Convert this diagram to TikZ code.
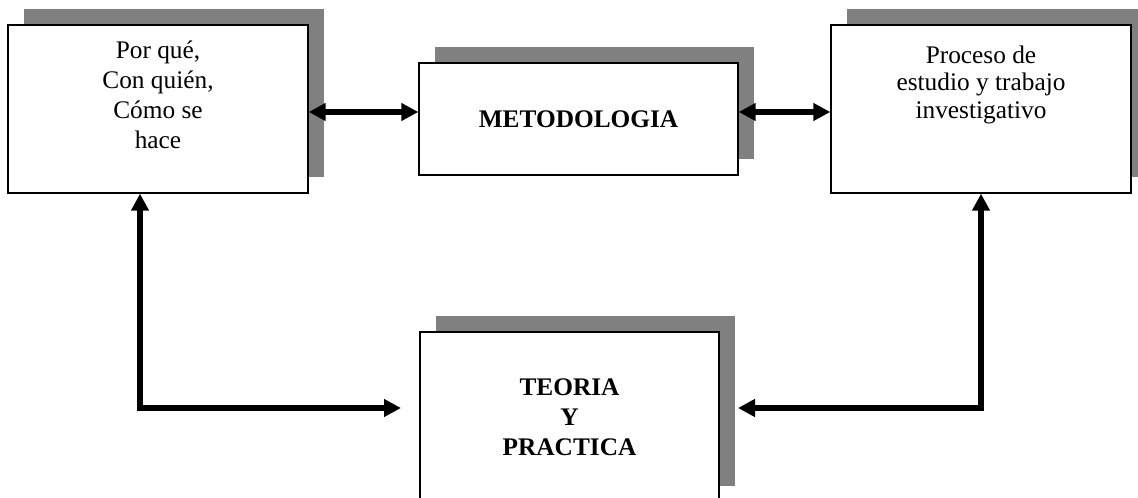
\documentclass[tikz,border=0pt]{standalone}
\usepackage{fontspec}
\setmainfont{Liberation Serif}
\usepackage{tikz}
\usetikzlibrary{positioning, arrows.meta, shadows}

\definecolor{shadowgray}{RGB}{128,128,128}

\begin{document}
\begin{tikzpicture}[
  x=0.75pt, y=-0.75pt,
  font=\fontsize{19}{22.5}\selectfont,
  box/.style={draw=black, line width=1pt, fill=white, inner sep=0pt,
    general shadow={fill=shadowgray, shadow xshift=12pt, shadow yshift=12pt}},
  bigbox/.style={box, minimum width=225pt, minimum height=126pt},
  txt/.style={align=center, inner sep=0pt},
  conn/.style={line width=4pt,
    {Triangle[length=12.75pt, width=12.75pt]}-{Triangle[length=12.75pt, width=12.75pt]}},
]
  \useasboundingbox (0,0) rectangle (1138,498);

  % Top row of boxes
  \node[bigbox] (pq) at (158,109) {};
  \node[txt, below=12pt of pq.north] (pqtext) {Por qué,\\Con quién,\\Cómo se\\hace};

  \node[box, minimum width=239.25pt, minimum height=84pt, font=\fontsize{19}{22.5}\selectfont\bfseries]
    (met) at (578.5,119) {METODOLOGIA};

  \node[bigbox] (proc) at (981,109) {};
  \node[txt, below=16pt of proc.north, font=\fontsize{19}{20.5}\selectfont]
    (proctext) {Proceso de\\estudio y trabajo\\investigativo};

  % Bottom box
  \node[box, minimum width=224.25pt, minimum height=127.5pt, align=center,
    font=\fontsize{19}{22.5}\selectfont\bfseries]
    (tp) at (569.5,417) {TEORIA\\Y\\PRACTICA};

  % Arrows
  \draw[conn] (pq.east |- 0,112) -- (met.west |- 0,112);
  \draw[conn] (met.east |- 0,112) -- (proc.west |- 0,112);

  \coordinate (tpl) at (401,408);
  \coordinate (tpr) at (738,408);
  \draw[conn] (140,0 |- pq.south) |- (tpl);
  \draw[conn] (981,0 |- proc.south) |- (tpr);
\end{tikzpicture}
\end{document}
